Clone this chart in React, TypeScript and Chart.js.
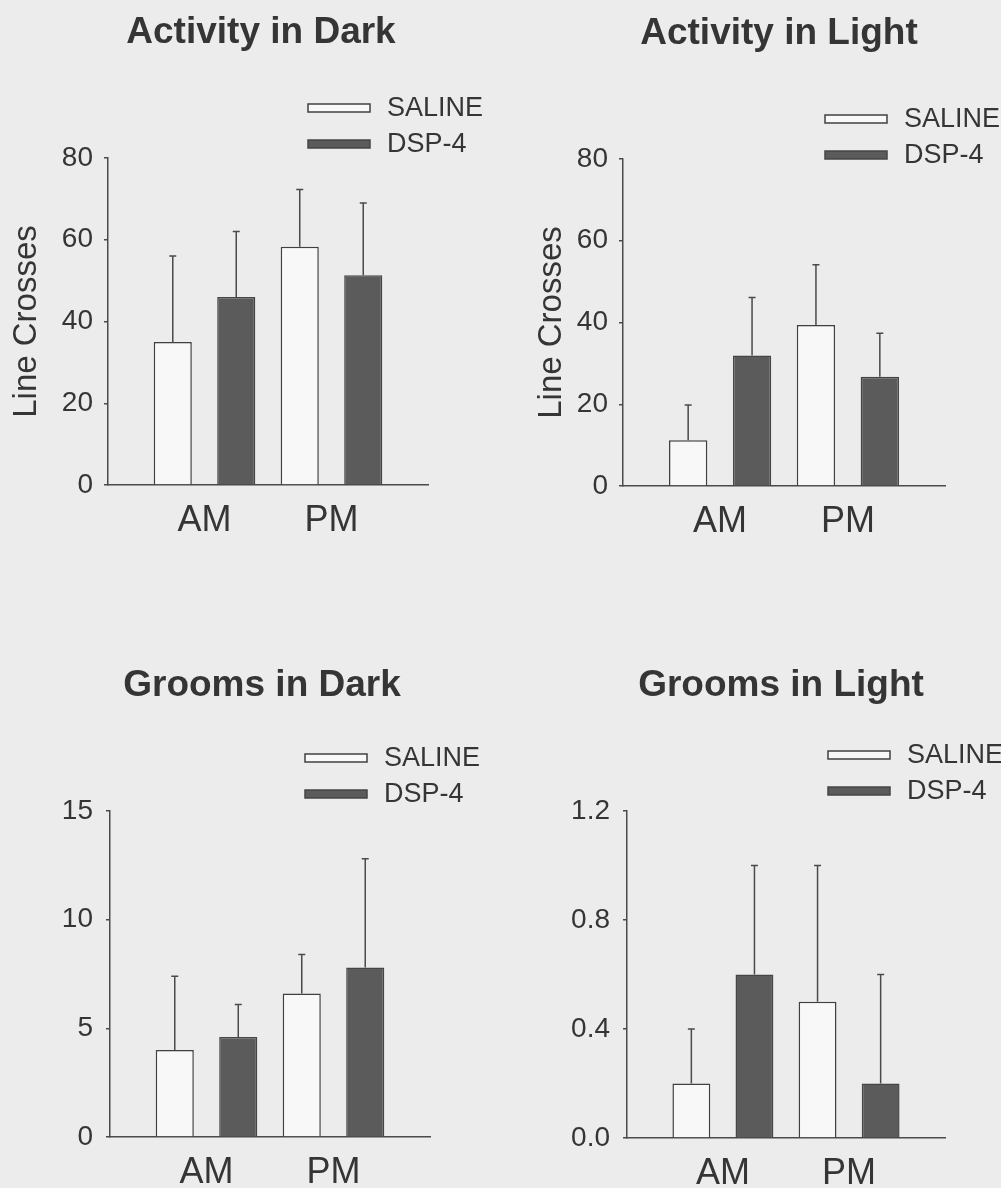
import React, { useEffect, useRef } from "react";
import { Chart, registerables } from "chart.js";

Chart.register(...registerables);

// ---------- data ----------
const categories = ["AM", "PM"];
const seriesLabels = ["SALINE", "DSP-4"];

const activityDarkSaline = [35.0, 58.3];
const activityDarkSalineSem = [21.0, 14.0];
const activityDarkDsp = [46.0, 51.3];
const activityDarkDspSem = [16.0, 17.7];

const activityLightSaline = [11.2, 39.4];
const activityLightSalineSem = [8.6, 14.7];
const activityLightDsp = [31.9, 26.7];
const activityLightDspSem = [14.2, 10.7];

const groomsDarkSaline = [4.0, 6.6];
const groomsDarkSalineSem = [3.4, 1.8];
const groomsDarkDsp = [4.6, 7.8];
const groomsDarkDspSem = [1.5, 5.0];

const groomsLightSaline = [0.2, 0.5];
const groomsLightSalineSem = [0.2, 0.5];
const groomsLightDsp = [0.6, 0.2];
const groomsLightDspSem = [0.4, 0.4];

const activityTicks = [0, 20, 40, 60, 80];
const groomsDarkTicks = [0, 5, 10, 15];
const groomsLightTicks = [0, 0.4, 0.8, 1.2];

// ---------- styles ----------
const FONT = "'Liberation Sans', Arial, Helvetica, sans-serif";
const INK = "#353535";
const AXIS = "#4a4a4a";
const DARK_FILL = "#5b5b5b";
const DARK_EDGE = "#454545";
const LIGHT_FILL = "#f8f8f8";
const LIGHT_EDGE = "#404040";
const PAGE = "#ececec";
const X_MARGIN = 0.76; // axis margin beyond the first/last group, in category units

type PanelSpec = {
  key: string;
  title: string;
  saline: number[];
  salineSem: number[];
  dsp: number[];
  dspSem: number[];
  yTicks: number[];
  decimals: number;
  yTitle: string;
  left: number;
  top: number;
  width: number;
  height: number;
  padLeft: number;
  padTop: number;
  padRight: number;
  yWidth: number;
  xHeight: number;
  tickPad: number;
  titleX: number;
  titleY: number;
  legendX: number;
  legendY: number;
  legendGap: number;
};

const panels: PanelSpec[] = [
  {
    key: "ad",
    title: "Activity in Dark",
    saline: activityDarkSaline,
    salineSem: activityDarkSalineSem,
    dsp: activityDarkDsp,
    dspSem: activityDarkDspSem,
    yTicks: activityTicks,
    decimals: 0,
    yTitle: "Line Crosses",
    left: 0,
    top: 0,
    width: 500,
    height: 594,
    padLeft: 0,
    padTop: 158,
    padRight: 72,
    yWidth: 108,
    xHeight: 109,
    tickPad: 11,
    titleX: 261,
    titleY: 43,
    legendX: 308,
    legendY: 108,
    legendGap: 36,
  },
  {
    key: "al",
    title: "Activity in Light",
    saline: activityLightSaline,
    salineSem: activityLightSalineSem,
    dsp: activityLightDsp,
    dspSem: activityLightDspSem,
    yTicks: activityTicks,
    decimals: 0,
    yTitle: "Line Crosses",
    left: 500,
    top: 0,
    width: 501,
    height: 594,
    padLeft: 25,
    padTop: 159,
    padRight: 56,
    yWidth: 98,
    xHeight: 108,
    tickPad: 11,
    titleX: 279,
    titleY: 44,
    legendX: 325,
    legendY: 119,
    legendGap: 36,
  },
  {
    key: "gd",
    title: "Grooms in Dark",
    saline: groomsDarkSaline,
    salineSem: groomsDarkSalineSem,
    dsp: groomsDarkDsp,
    dspSem: groomsDarkDspSem,
    yTicks: groomsDarkTicks,
    decimals: 0,
    yTitle: "",
    left: 0,
    top: 594,
    width: 500,
    height: 594,
    padLeft: 0,
    padTop: 217,
    padRight: 70,
    yWidth: 110,
    xHeight: 51,
    tickPad: 13,
    titleX: 262,
    titleY: 102,
    legendX: 305,
    legendY: 164,
    legendGap: 36,
  },
  {
    key: "gl",
    title: "Grooms in Light",
    saline: groomsLightSaline,
    salineSem: groomsLightSalineSem,
    dsp: groomsLightDsp,
    dspSem: groomsLightDspSem,
    yTicks: groomsLightTicks,
    decimals: 1,
    yTitle: "",
    left: 500,
    top: 594,
    width: 501,
    height: 594,
    padLeft: 0,
    padTop: 217,
    padRight: 56,
    yWidth: 127,
    xHeight: 50,
    tickPad: 13,
    titleX: 281,
    titleY: 102,
    legendX: 328,
    legendY: 161,
    legendGap: 36,
  },
];

// ---------- plugins ----------
const errorBars = {
  id: "errorBars",
  afterDatasetsDraw(chart: any) {
    const ctx = chart.ctx;
    const yScale = chart.scales.y;
    chart.data.datasets.forEach((ds: any, di: number) => {
      const meta = chart.getDatasetMeta(di);
      meta.data.forEach((bar: any, j: number) => {
        const v = ds.data[j].y;
        const yTop = yScale.getPixelForValue(v + ds.sem[j]);
        ctx.save();
        ctx.strokeStyle = AXIS;
        ctx.lineWidth = 1.5;
        ctx.beginPath();
        ctx.moveTo(bar.x, bar.y);
        ctx.lineTo(bar.x, yTop);
        ctx.moveTo(bar.x - 3.5, yTop);
        ctx.lineTo(bar.x + 3.5, yTop);
        ctx.stroke();
        ctx.restore();
      });
    });
  },
};

const decor = {
  id: "decor",
  afterDraw(chart: any, _args: any, opts: any) {
    const ctx = chart.ctx;
    ctx.save();
    ctx.fillStyle = INK;
    ctx.font = `bold 37px ${FONT}`;
    ctx.textAlign = "center";
    ctx.textBaseline = "alphabetic";
    ctx.fillText(opts.title, opts.titleX, opts.titleY);
    chart.data.datasets.forEach((ds: any, i: number) => {
      const cy = opts.legendY + i * opts.legendGap;
      ctx.fillStyle = ds.backgroundColor;
      ctx.strokeStyle = ds.borderColor;
      ctx.lineWidth = 1.5;
      ctx.fillRect(opts.legendX, cy - 4, 62, 8);
      ctx.strokeRect(opts.legendX, cy - 4, 62, 8);
      ctx.fillStyle = INK;
      ctx.font = `27px ${FONT}`;
      ctx.textAlign = "left";
      ctx.textBaseline = "middle";
      ctx.fillText(ds.label, opts.legendX + 79, cy + 1);
    });
    ctx.restore();
  },
};

function Panel({ spec }: { spec: PanelSpec }) {
  const ref = useRef<HTMLCanvasElement | null>(null);

  useEffect(() => {
    if (!ref.current) return;
    const toPoints = (arr: number[]) => arr.map((v, i) => ({ x: i, y: v }));
    const yMin = spec.yTicks[0];
    const yMax = spec.yTicks[spec.yTicks.length - 1];
    const xMin = -X_MARGIN;
    const xMax = categories.length - 1 + X_MARGIN;
    const chart = new Chart(ref.current, {
      type: "bar",
      data: {
        datasets: [
          {
            label: seriesLabels[0],
            data: toPoints(spec.saline),
            sem: spec.salineSem,
            backgroundColor: LIGHT_FILL,
            borderColor: LIGHT_EDGE,
            borderWidth: 1.5,
            borderSkipped: "bottom",
            categoryPercentage: 1,
            barPercentage: 0.6,
          } as any,
          {
            label: seriesLabels[1],
            data: toPoints(spec.dsp),
            sem: spec.dspSem,
            backgroundColor: DARK_FILL,
            borderColor: DARK_EDGE,
            borderWidth: 1.5,
            borderSkipped: "bottom",
            categoryPercentage: 1,
            barPercentage: 0.6,
          } as any,
        ],
      },
      options: {
        responsive: false,
        animation: false,
        devicePixelRatio: 1,
        layout: {
          padding: { left: spec.padLeft, top: spec.padTop, right: spec.padRight, bottom: 0 },
        },
        plugins: {
          legend: { display: false },
          tooltip: { enabled: false },
          title: { display: false },
          decor: {
            title: spec.title,
            titleX: spec.titleX,
            titleY: spec.titleY,
            legendX: spec.legendX,
            legendY: spec.legendY,
            legendGap: spec.legendGap,
          },
        } as any,
        scales: {
          x: {
            type: "linear",
            offset: false,
            bounds: "data",
            grace: 0,
            min: xMin,
            max: xMax,
            afterDataLimits: (s: any) => {
              s.min = xMin;
              s.max = xMax;
            },
            afterBuildTicks: (s: any) => {
              s.ticks = categories.map((_, i) => ({ value: i }));
              s.min = xMin;
              s.max = xMax;
            },
            afterFit: (s: any) => {
              s.height = spec.xHeight;
            },
            ticks: {
              callback: (v: any) => categories[v] ?? "",
              autoSkip: false,
              includeBounds: false,
              maxRotation: 0,
              padding: 14,
              color: INK,
              font: { family: FONT, size: 36 },
            },
            grid: { display: false, drawTicks: false, offset: false },
            border: { display: true, color: AXIS, width: 1.5 },
          },
          y: {
            type: "linear",
            min: yMin,
            max: yMax,
            afterBuildTicks: (s: any) => {
              s.ticks = spec.yTicks.map((v) => ({ value: v }));
            },
            afterFit: (s: any) => {
              s.width = spec.yWidth;
            },
            ticks: {
              callback: (v: any) => Number(v).toFixed(spec.decimals),
              padding: spec.tickPad,
              color: INK,
              font: { family: FONT, size: 28 },
            },
            grid: {
              drawOnChartArea: false,
              drawTicks: true,
              tickLength: 4,
              color: AXIS,
              lineWidth: 1.5,
            },
            border: { display: true, color: AXIS, width: 1.5 },
            title: {
              display: spec.yTitle !== "",
              text: spec.yTitle,
              color: INK,
              font: { family: FONT, size: 33 },
              padding: { top: 7, bottom: 0 },
            },
          },
        },
      } as any,
      plugins: [errorBars, decor],
    });
    return () => chart.destroy();
  }, [spec]);

  return (
    <canvas
      ref={ref}
      width={spec.width}
      height={spec.height}
      style={{
        position: "absolute",
        left: spec.left,
        top: spec.top,
        width: spec.width,
        height: spec.height,
        display: "block",
      }}
    />
  );
}

export default function App() {
  return (
    <div
      style={{
        position: "absolute",
        left: 0,
        top: 0,
        width: 1001,
        height: 1188,
        background: PAGE,
        overflow: "hidden",
      }}
    >
      {panels.map((p) => (
        <Panel key={p.key} spec={p} />
      ))}
    </div>
  );
}
